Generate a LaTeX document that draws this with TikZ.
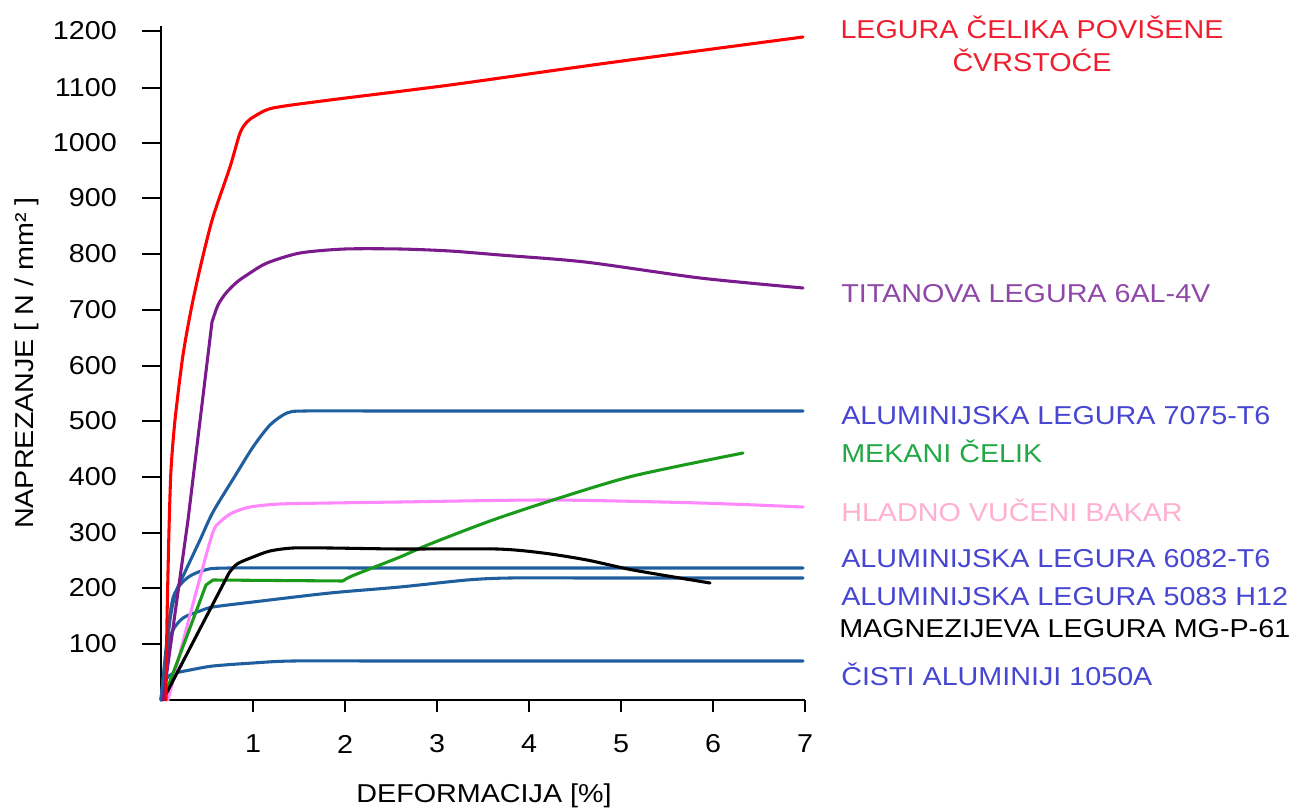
\documentclass[tikz,border=0pt]{standalone}
\usepackage{fontspec}
\setmainfont{Liberation Sans}
\newfontfamily\labfont[FakeStretch=1.11]{Liberation Sans}
\definecolor{cRed}{HTML}{FF0000}
\definecolor{cRedT}{HTML}{EE2030}
\definecolor{cPur}{HTML}{7A1A8C}
\definecolor{cPurT}{HTML}{9048A8}
\definecolor{cBlue}{HTML}{1F5F9F}
\definecolor{cBlueT}{HTML}{4646D2}
\definecolor{cGreen}{HTML}{1A9A1A}
\definecolor{cGreenT}{HTML}{22A844}
\definecolor{cPink}{HTML}{FF88FF}
\definecolor{cPinkT}{HTML}{FFB0D0}
\begin{document}
\begin{tikzpicture}[x=0.75pt,y=-0.75pt,
  axisline/.style={line width=2.2pt,black},
  curve/.style={line width=2.3pt,line join=round,line cap=round},
  lab/.style={font=\labfont\fontsize{19.4pt}{24.75pt}\selectfont,inner sep=0pt},
  leg/.style={lab,anchor=base west}]
\useasboundingbox (0,0) rectangle (1303,812);
\fill[white] (0,0) rectangle (1303,812);

% axes
\coordinate (ytop) at (161,26);
\coordinate (orig) at (161,700);
\coordinate (xend) at (805,700);
\draw[axisline] (ytop) -- (orig) -- (xend);
\foreach \v/\y in {100/644,200/588,300/533,400/477,500/421,600/366,700/310,800/254,900/198,1000/143,1100/88,1200/31}{
  \draw[axisline] (142,\y) -- (161,\y);
  \node[lab,anchor=east] (yl\v) at (117,\y) {\v};
}
\foreach \u/\x in {1/253,2/345,3/437,4/529,5/621,6/713,7/805}{
  \draw[axisline] (\x,700) -- (\x,712);
  \node[lab] (xl\u) at (\x,744) {\u};
}
\node[lab,rotate=90] (ytitle) at (27,363) {NAPREZANJE [ N / mm² ]};
\node[lab] (xtitle) at (484,796) {DEFORMACIJA [\%]};

% curves
\draw[curve,cBlue] plot[smooth,tension=0.45] coordinates {(161,700) (166,680) (172,674) (190,670) (213,666) (253,663) (293,661) (400,661) (803,661)};
\draw[curve,cBlue] plot[smooth,tension=0.45] coordinates {(161,700) (166,660) (172,632) (183,618) (200,611) (213,607) (253,602) (330,593) (400,587) (467,580) (510,578) (600,578) (803,578)};
\draw[curve,cBlue] plot[smooth,tension=0.45] coordinates {(161,700) (168,630) (173,598) (180,585) (190,576) (205,570) (230,568) (400,568) (803,568)};
\draw[curve,cBlue] plot[smooth,tension=0.45] coordinates {(161,700) (170,620) (176,592) (185,572) (200,540) (213,512) (235,476) (253,447) (270,425) (287,413) (305,411) (400,411) (803,411)};
\draw[curve,cPink] plot[smooth,tension=0.45] coordinates {(168,700) (190,615) (212,535) (220,522) (232,513) (250,507) (280,504) (330,503) (400,502) (550,500) (700,503) (803,507)};
\draw[curve,cGreen] (163,700) -- (206,585) -- (213,580) -- (343,581)
  plot[smooth,tension=0.45] coordinates {(343,581) (352,576) (400,557) (430,544) (490,521) (553,500) (633,476) (743,453)};
\draw[curve,black] (163,700) -- (229,573)
  plot[smooth,tension=0.45] coordinates {(229,573) (237,564) (253,557) (270,551) (293,548) (330,548) (400,549) (497,549) (543,553) (587,560) (633,570) (710,583)};
\draw[curve,cPur] (163,700) -- (188,520) -- (212,322)
  plot[smooth,tension=0.45] coordinates {(212,322) (218,305) (226,293) (237,282) (250,273) (267,263) (300,253) (345,249) (400,249) (450,251) (500,255) (585,262) (700,278) (803,288)};
\draw[curve,cRed] plot[smooth,tension=0.45] coordinates {(166,700) (167,620) (169,530) (171,470) (175,420) (183,355) (192,305) (202,260) (213,217) (230,167) (240,133) (247,122) (255,116) (273,108) (330,100) (450,85) (600,64) (803,37)};

% legend labels
\node[lab,text=cRedT,align=center,anchor=base] (lRed) at (1032,72) {LEGURA ČELIKA POVIŠENE\\ČVRSTOĆE};
\node[leg,text=cPurT] (lTi) at (841,303) {TITANOVA LEGURA 6AL-4V};
\node[leg,text=cBlueT] (l7075) at (841,425) {ALUMINIJSKA LEGURA 7075-T6};
\node[leg,text=cGreenT] (lMek) at (841,463) {MEKANI ČELIK};
\node[leg,text=cPinkT] (lBak) at (841,522) {HLADNO VUČENI BAKAR};
\node[leg,text=cBlueT] (l6082) at (841,567) {ALUMINIJSKA LEGURA 6082-T6};
\node[leg,text=cBlueT] (l5083) at (841,605) {ALUMINIJSKA LEGURA 5083 H12};
\node[leg,text=black] (lMg) at (839,637) {MAGNEZIJEVA LEGURA MG-P-61};
\node[leg,text=cBlueT] (l1050) at (841,685) {ČISTI ALUMINIJI 1050A};
\end{tikzpicture}
\end{document}
